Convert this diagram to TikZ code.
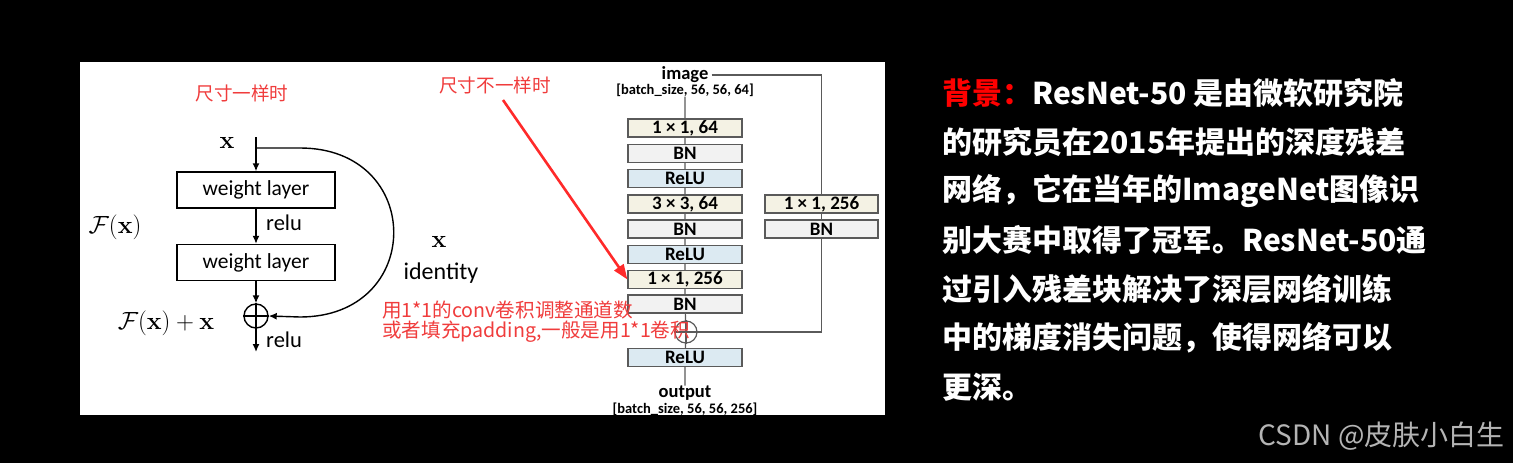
\documentclass[tikz,border=0pt]{standalone}
\usepackage[no-math]{fontspec}
\setmainfont{Carlito}
\newfontfamily\cjk{Noto Sans CJK SC}
\usetikzlibrary{arrows.meta}
\definecolor{convc}{HTML}{F4F2E4}
\definecolor{bnc}{HTML}{F2F2F2}
\definecolor{reluc}{HTML}{DCEAF2}
\definecolor{redt}{HTML}{F03C3C}
\definecolor{redar}{HTML}{FF2A2A}
\definecolor{boxline}{HTML}{5A5A5A}
\definecolor{wmark}{HTML}{B4B4B4}
\begin{document}
\begin{tikzpicture}[x=1pt,y=-1pt,
  wl/.style={draw=black,line width=1.4pt,minimum width=158pt,minimum height=36pt,inner sep=0pt,font=\fontsize{21.5}{23}\selectfont},
  arr/.style={-{Latex[length=8pt,width=7pt]},line width=1.4pt},
  lbl/.style={inner sep=0pt,font=\fontsize{22.5}{24}\selectfont},
  mth/.style={inner sep=0pt,font=\fontsize{25}{27}\selectfont},
  redlbl/.style={inner sep=0pt,text=redt,font=\cjk\fontsize{18.6}{20}\selectfont},
  notelbl/.style={inner sep=0pt,text=redt,font=\cjk\fontsize{19.6}{22}\selectfont},
  blk/.style={draw=boxline,line width=1.2pt,minimum width=114pt,minimum height=18pt,inner sep=0pt,font=\fontsize{19}{19}\selectfont\bfseries},
  conv/.style={blk,fill=convc},
  bn/.style={blk,fill=bnc},
  relub/.style={blk,fill=reluc},
  thin/.style={draw=boxline,line width=1.2pt},
  toplbl/.style={inner sep=0pt,font=\fontsize{18.5}{19}\selectfont\bfseries},
  szlbl/.style={inner sep=0pt,font=\fontsize{14.5}{15}\selectfont\bfseries},
  bodytxt/.style={anchor=west,inner sep=0pt,text=white,font=\cjk\bfseries\fontsize{30}{32}\selectfont},
]
\useasboundingbox (0,0) rectangle (1513,463);
\fill[black] (0,0) rectangle (1513,463);
\fill[white] (80,62) rectangle (885,415);

% ---------- left: identity block ----------
\node[redlbl] (t1) at (242,93) {尺寸一样时};
\node[mth] (xin) at (227,143) {$\mathbf{x}$};
\coordinate (xtop) at (256,137);
\coordinate (split) at (256,148);
\node[wl] (w1) at (256,190) {weight layer};
\node[wl] (w2) at (256,262.5) {weight layer};
\node[circle,draw,line width=1.4pt,minimum size=24pt,inner sep=0pt] (p1) at (256,316) {};
\draw[line width=1.4pt] (p1.north) -- (p1.south) (p1.west) -- (p1.east);
\coordinate (out1) at (256,352);
\draw[arr] (xtop) -- (w1.north);
\draw[arr] (w1) -- (w2);
\draw[arr] (w2) -- (p1);
\draw[arr] (p1.south) -- (out1);
\draw[arr] (split) -- (300,148) .. controls (425,148) and (425,317) .. (300,317) -- (p1.east);
\node[lbl,anchor=west] (relu1) at (266,223) {relu};
\node[lbl,anchor=west] (relu2) at (266,340) {relu};
\node[mth] (fx) at (115,227) {$\mathcal{F}(\mathbf{x})$};
\node[mth] (fxx) at (166,323) {$\mathcal{F}(\mathbf{x})+\mathbf{x}$};
\node[mth] (xid) at (439,242) {$\mathbf{x}$};
\node[lbl,font=\fontsize{24}{26}\selectfont] (ident) at (441,273) {identity};

% ---------- right: bottleneck block ----------
\node[toplbl] (img) at (685,75) {image};
\node[szlbl] (imgsz) at (685,90) {[batch\_size, 56, 56, 64]};
\node[conv] (c1) at (685,128) {1 × 1, 64};
\node[bn] (b1) at (685,153.5) {BN};
\node[relub] (r1) at (685,178.5) {ReLU};
\node[conv] (c2) at (685,204) {3 × 3, 64};
\node[bn] (b2) at (685,229) {BN};
\node[relub] (r2) at (685,254.5) {ReLU};
\node[conv] (c3) at (685,279.5) {1 × 1, 256};
\node[bn] (b3) at (685,304) {BN};
\node[circle,thin,minimum size=22pt,inner sep=0pt] (p2) at (686,332) {};
\draw[thin] (p2.north) -- (p2.south) (p2.west) -- (p2.east);
\node[relub] (r3) at (685,357.5) {ReLU};
\node[toplbl] (outl) at (685,393) {output};
\node[szlbl] (outsz) at (685,409) {[batch\_size, 56, 56, 256]};
\node[conv,minimum width=113pt] (s1) at (821.5,204) {1 × 1, 256};
\node[bn,minimum width=113pt] (s2) at (821.5,229) {BN};
\draw[thin] (imgsz) -- (c1) (c1) -- (b1) (b1) -- (r1) (r1) -- (c2) (c2) -- (b2)
  (b2) -- (r2) (r2) -- (c3) (c3) -- (b3) (b3) -- (p2) (p2) -- (r3) (r3) -- (outl);
\draw[thin] (img.east) ++(3pt,0) -| (s1.north);
\draw[thin] (s1) -- (s2);
\draw[thin] (s2.south) |- (p2.east);

% ---------- red annotations ----------
\node[redlbl] (t2) at (495,85) {尺寸不一样时};
\coordinate (ra) at (503,100);
\draw[redar,line width=2.6pt,-{Triangle[length=15pt,width=11pt]}] (ra) -- (c3.west);
\node[notelbl,anchor=west] (n1) at (382,310) {用1*1的conv卷积调整通道数};
\node[notelbl,anchor=west] (n2) at (382,332) {或者填充padding,一般是用1*1卷积};

% ---------- right text ----------
\node[bodytxt] (l1) at (942,93) {\textcolor{red}{背景：}ResNet-50 是由微软研究院};
\node[bodytxt] (l2) at (942,142) {的研究员在2015年提出的深度残差};
\node[bodytxt] (l3) at (942,191) {网络，它在当年的ImageNet图像识};
\node[bodytxt] (l4) at (942,240) {别大赛中取得了冠军。ResNet-50通};
\node[bodytxt] (l5) at (942,289) {过引入残差块解决了深层网络训练};
\node[bodytxt] (l6) at (942,338) {中的梯度消失问题，使得网络可以};
\node[bodytxt] (l7) at (942,387) {更深。};

\node[anchor=east,inner sep=0pt,text=wmark,font=\cjk\fontsize{28}{30}\selectfont] (wm) at (1505,436) {CSDN @皮肤小白生};
\end{tikzpicture}
\end{document}
